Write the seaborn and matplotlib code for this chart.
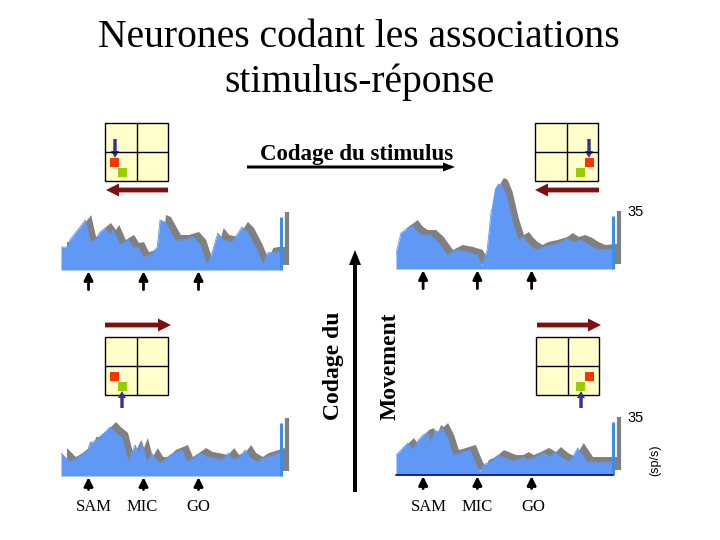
import numpy as np
import pandas as pd
import matplotlib
matplotlib.use("Agg")
import matplotlib.pyplot as plt
import matplotlib.transforms as mtransforms
from matplotlib.patches import Rectangle, FancyArrow
import seaborn as sns

# ---------------- data (firing rate, sp/s, vs time in bins) ----------------
events = [5, 15, 25]
event_labels = ["SAM", "MIC", "GO"]
scale_value = 35

t_tl = [0, 1.1, 1.6, 4.0, 4.4, 5.3, 6.2, 7.1, 8.0, 8.9, 9.5, 10.7, 12.2, 13.1, 14.0,
        14.9, 16.2, 17.5, 18.0, 18.9, 20.7, 22.2, 24.0, 25.3, 26.5, 27.5, 28.5, 29.5,
        31.1, 32.9, 34.0, 35.6, 36.7, 37.5, 38.5, 39.8]
r_tl = [15.2, 15.2, 19.9, 31.1, 33.1, 18.5, 19.9, 25.2, 27.8, 23.2, 26.5, 16.6, 19.9,
        14.6, 15.2, 8.6, 9.9, 15.2, 33.1, 31.8, 19.9, 19.9, 21.9, 16.6, 3.3, 11.9, 24.5,
        19.9, 18.5, 28.5, 24.5, 13.2, 3.3, 11.3, 11.9, 11.9]

t_tr = [0, 0.9, 2.9, 3.9, 4.8, 6.3, 7.7, 9.4, 11.2, 13.1, 14.9, 15.8, 16.8, 17.7, 18.2,
        18.8, 19.5, 20.4, 21.5, 22.5, 23.4, 24.1, 25.0, 25.9, 27.0, 28.7, 30.5, 31.5,
        32.6, 33.8, 35.1, 36.2, 37.5, 39.3, 40.0]
r_tr = [10.0, 23.8, 29.1, 24.5, 22.5, 22.5, 17.9, 9.3, 12.6, 11.3, 9.3, 2.6, 12.6, 43.7,
        53.6, 57.0, 55.6, 47.7, 30.5, 19.2, 21.2, 17.9, 14.6, 12.6, 14.6, 15.9, 17.9,
        20.5, 17.9, 19.2, 17.2, 14.6, 12.6, 13.2, 13.2]

t_bl = [0, 0.7, 1.6, 2.9, 4.0, 4.9, 5.3, 5.8, 7.1, 8.4, 8.9, 9.8, 11.1, 12.2, 12.9, 13.5,
        14.0, 14.7, 15.6, 16.5, 17.5, 18.5, 19.8, 21.1, 22.0, 22.9, 24.0, 25.3, 26.5,
        27.6, 29.3, 30.4, 31.3, 32.5, 33.5, 34.4, 35.6, 36.7, 38.5, 39.5, 40.0]
r_bl = [15.2, 12.6, 9.3, 11.9, 15.2, 17.2, 22.5, 22.5, 25.8, 30.5, 32.5, 29.1, 25.2, 9.3,
        15.9, 20.5, 15.2, 21.9, 9.3, 15.2, 9.3, 9.3, 13.9, 15.9, 17.2, 9.3, 11.9, 15.2,
        12.6, 11.9, 10.6, 15.2, 10.6, 12.6, 17.2, 11.9, 9.3, 11.9, 13.9, 15.2, 15.2]

t_br = [0, 1.1, 2.2, 3.1, 4.1, 5.0, 5.9, 6.3, 7.2, 7.7, 8.5, 9.6, 10.5, 11.8, 13.6, 14.9,
        15.5, 16.0, 17.3, 18.8, 19.7, 21.0, 22.3, 23.4, 24.3, 25.6, 27.1, 28.4, 29.3,
        30.6, 32.0, 33.5, 35.2, 36.3, 38.9, 39.8]
r_br = [13.2, 17.2, 21.2, 16.6, 23.2, 26.5, 27.8, 21.2, 29.8, 28.5, 31.1, 23.2, 13.2,
        14.6, 16.6, 5.3, 2.0, 6.6, 8.6, 13.2, 11.9, 9.9, 9.9, 11.9, 9.9, 11.9, 14.6, 11.9,
        15.2, 11.3, 8.6, 17.9, 8.6, 8.6, 8.6, 8.6]

# ---------------- style ----------------
sns.set_theme(style="white")
plt.rcParams["font.family"] = ["Liberation Serif", "DejaVu Serif"]

BLUE = "#6098f6"
BAR_BLUE = "#3c8fe6"
GRAY = "#808080"
NAVY = "#333399"
MAROON = "#7d1010"
YELLOW = "#ffffcc"
RED = "#ff3300"
GREEN = "#99cc00"

W, H = 720, 540
fig = plt.figure(figsize=(7.2, 5.4), dpi=100)
fig.patch.set_facecolor("white")

# overlay in pixel space for schematic decorations
ov = fig.add_axes([0, 0, 1, 1], zorder=0)
ov.set_xlim(0, W)
ov.set_ylim(H, 0)
ov.axis("off")

# Title
ov.text(359, 47, "Neurones codant les associations", ha="center", va="baseline",
        fontsize=28.5, color="black")
ov.text(359, 92, "stimulus-réponse", ha="center", va="baseline",
        fontsize=28.5, color="black")

# "Codage du stimulus" with arrow
ov.text(357, 160, "Codage du stimulus", ha="center", va="baseline",
        fontsize=16.5, fontweight="bold", color="black")
ov.add_patch(FancyArrow(247, 167, 208, 0, width=3, head_width=9, head_length=12,
                        length_includes_head=True, color="black", lw=0))
# Vertical arrow and labels
ov.add_patch(FancyArrow(355, 492, 0, -242, width=4, head_width=12, head_length=15,
                        length_includes_head=True, color="black", lw=0))
ov.text(333, 420, "Codage du", rotation=90, ha="center", va="bottom",
        fontsize=17, fontweight="bold", color="black")
ov.text(390, 420, "Movement", rotation=90, ha="center", va="bottom",
        fontsize=17, fontweight="bold", color="black")


def grid_icon(x0, y0, red_xy, green_xy, navy, maroon):
    w, h = 63, 58
    ov.add_patch(Rectangle((x0, y0), w, h, facecolor=YELLOW, edgecolor="black", lw=1.0))
    ov.plot([x0 + w / 2, x0 + w / 2], [y0, y0 + h], color="black", lw=1.0)
    ov.plot([x0, x0 + w], [y0 + h / 2, y0 + h / 2], color="black", lw=1.0)
    ov.add_patch(Rectangle(red_xy, 9, 9.5, facecolor=RED, edgecolor="none"))
    ov.add_patch(Rectangle(green_xy, 9, 9.5, facecolor=GREEN, edgecolor="none"))
    nx, ny0, ny1 = navy
    ov.add_patch(FancyArrow(nx, ny0, 0, ny1 - ny0, width=3.4, head_width=8, head_length=7,
                            length_includes_head=True, color=NAVY, lw=0))
    mx0, mx1, my = maroon
    ov.add_patch(FancyArrow(mx0, my, mx1 - mx0, 0, width=4.8, head_width=13, head_length=13,
                            length_includes_head=True, color=MAROON, lw=0))


grid_icon(105, 123, (110, 157.5), (118, 167.5), (115, 139, 158), (168, 106, 190))
grid_icon(535, 123, (585, 157.5), (576, 167.5), (589, 139, 158), (599, 535, 190))
grid_icon(105, 337, (110, 371.5), (118, 381.5), (122, 408, 391), (105, 171, 325))
grid_icon(536, 337, (585, 371.5), (576, 381.5), (581, 408, 391), (537, 601, 325))

PX_PER_UNIT = 1.51
PANEL_UNITS = 40


def panel(left, base, width, t, r, arrow_tail, labels_y=None, label_x=None,
          show35=False, sp=False, navy_base=False):
    ax = fig.add_axes([left / W, (H - base) / H, width / W, PANEL_UNITS * PX_PER_UNIT / H],
                      zorder=2)
    ax.patch.set_alpha(0)
    ax.set_xlim(0, 40)
    ax.set_ylim(0, PANEL_UNITS)
    ax.axis("off")
    shadow = mtransforms.offset_copy(ax.transData, fig=fig, x=5.5, y=5.5, units="dots")
    df = pd.DataFrame({"t": t, "rate": r})
    ax.fill_between(df["t"], 0, df["rate"], color=GRAY, lw=0, transform=shadow,
                    clip_on=False, zorder=1)
    ax.plot([40, 40], [0, scale_value], color=GRAY, lw=3.0, transform=shadow,
            solid_capstyle="butt", clip_on=False, zorder=1)
    ax.fill_between(df["t"], 0, df["rate"], color=BLUE, lw=0, clip_on=False, zorder=2)
    sns.lineplot(data=df, x="t", y="rate", ax=ax, color=BLUE, lw=0.6, estimator=None,
                 sort=False, legend=False, zorder=3)
    ax.plot([40, 40], [0, scale_value], color=BAR_BLUE, lw=2.2, solid_capstyle="butt",
            clip_on=False, zorder=4)
    ax.set_xlabel("")
    ax.set_ylabel("")
    if navy_base:
        ax.plot([0, 40], [0, 0], color="#141480", lw=1.3, clip_on=False, zorder=5)
    for e in events:
        ax.annotate("", xy=(e, -0.8), xytext=(e, arrow_tail), annotation_clip=False,
                    arrowprops=dict(arrowstyle="-|>", color="black", lw=2.0,
                                    mutation_scale=13, shrinkA=0, shrinkB=0))
    if labels_y is not None:
        for lx, lab in zip(label_x, event_labels):
            ax.text(lx, labels_y, lab, ha="center", va="center", fontsize=12,
                    color="black", clip_on=False)
    if show35:
        ax.text(42.6, 37.5, str(scale_value), ha="left", va="center", fontsize=10.5,
                family=["Liberation Sans", "DejaVu Sans"], color="black", clip_on=False)
    if sp:
        ax.text(47.7, 10.0, "(sp/s)", rotation=90, ha="center", va="center", fontsize=9,
                family=["Liberation Sans", "DejaVu Sans"], color="black", clip_on=False)
    return ax


panel(61, 270, 220, t_tl, r_tl, arrow_tail=-13)
panel(396, 269, 217, t_tr, r_tr, arrow_tail=-13, show35=True)
panel(61, 476, 220, t_bl, r_bl, arrow_tail=-9, labels_y=-20.5, label_x=[5.9, 14.8, 25.0])
panel(396, 475, 217, t_br, r_br, arrow_tail=-9, labels_y=-21.3, label_x=[6.0, 15.0, 25.3],
      show35=True, sp=True, navy_base=True)

fig.savefig("out.png", dpi=100, facecolor="white")
